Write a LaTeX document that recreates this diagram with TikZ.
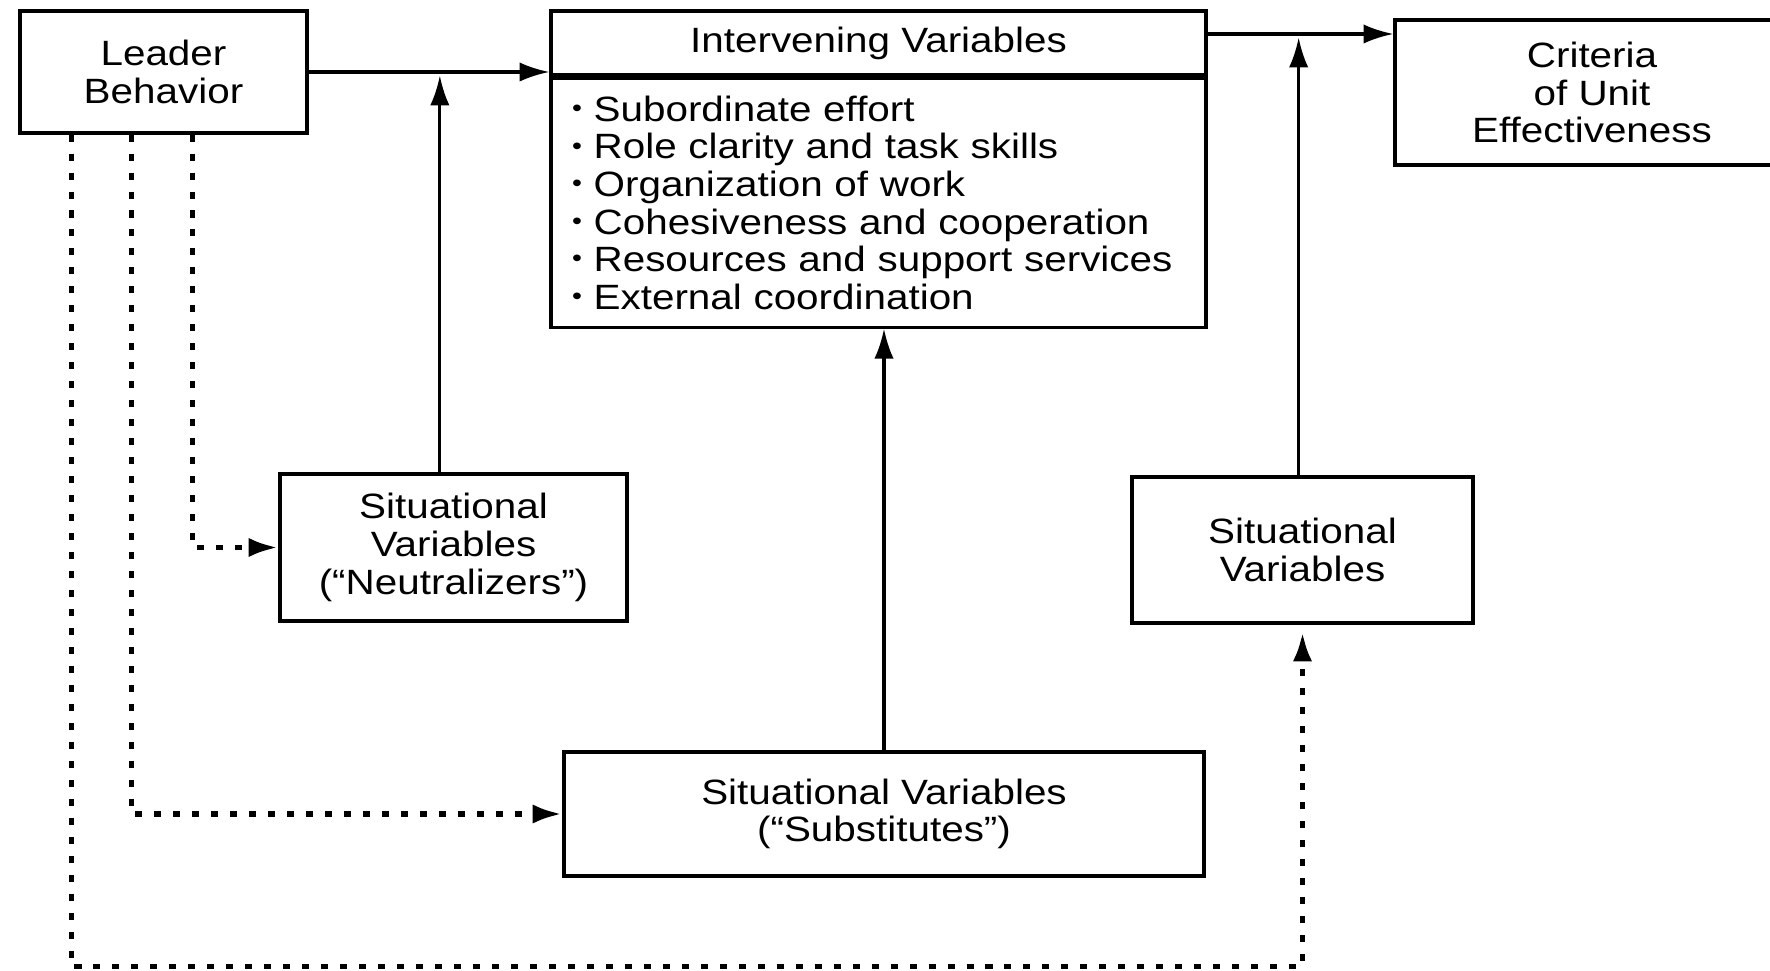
\documentclass[tikz,border=0pt]{standalone}
\usepackage{fontspec}
\setmainfont{Liberation Sans}[FakeStretch=1.15]
\usetikzlibrary{positioning,calc,arrows.meta}
\newcommand{\itm}{\raisebox{0.25ex}{\fontsize{7}{7}\selectfont\textbullet}\ }

\begin{document}
\begin{tikzpicture}[
  box/.style={draw, black, line width=0.9pt, align=center, inner sep=0pt, font=\fontsize{10}{10.7}\selectfont},
  arr/.style={black, line width=0.9pt, -{Latex[length=8.5pt,width=5.5pt]}},
  dots/.style={black, line width=1.6pt, dash pattern=on 2pt off 3.4pt, -{Latex[length=8.5pt,width=5.5pt]}}
]
\useasboundingbox (0,0) rectangle (17.7,9.7);
\node[box, minimum width=2.87cm, minimum height=1.22cm] (lead) at (1.635,8.98) {Leader\\Behavior};
\node[box, minimum width=6.55cm, minimum height=0.64cm] (intvhead) at (8.785,9.27) {Intervening Variables};
\node[box, below=0pt of intvhead, minimum height=2.49cm, text width=6.13cm, align=left, inner xsep=0.21cm] (intv)
  {\itm Subordinate effort\\
   \itm Role clarity and task skills\\
   \itm Organization of work\\
   \itm Cohesiveness and cooperation\\
   \itm Resources and support services\\
   \itm External coordination};
\node[box, minimum width=3.94cm, minimum height=1.45cm] (crit) at (15.92,8.775) {Criteria\\of Unit\\Effectiveness};
\node[box, minimum width=3.47cm, minimum height=1.47cm] (neut) at (4.535,4.225) {Situational\\Variables\\(“Neutralizers”)};
\node[box, minimum width=3.41cm, minimum height=1.46cm] (sit) at (13.025,4.2) {Situational\\Variables};
\node[box, minimum width=6.40cm, minimum height=1.24cm] (subst) at (8.84,1.56) {Situational Variables\\(“Substitutes”)};

\coordinate (o2) at ([yshift=0.09cm]intvhead.east);
\coordinate (j1) at ($(lead.east)!0.545!(lead.east -| intv.west)$);
\coordinate (j2) at ($(o2)!0.49!(o2 -| crit.west)$);
\coordinate (d1) at ([xshift=1.74cm]lead.south west);
\coordinate (d2) at ([xshift=1.13cm]lead.south west);
\coordinate (d3) at ([xshift=0.53cm]lead.south west);
\coordinate (bot) at ([yshift=-0.89cm]subst.south);

\draw[arr] (lead.east) -- (lead.east -| intv.west);
\draw[arr] (o2) -- (o2 -| crit.west);
\draw[arr] (neut.north -| j1) -- ([yshift=-1pt]j1);
\draw[arr] (sit.north -| j2) -- ([yshift=-1pt]j2);
\draw[arr] (subst.north) -- (subst.north |- intv.south);

\draw[dots] (d1) |- (neut.west);
\draw[dots] (d2) |- (subst.west);
\draw[dots, shorten >=2pt] (d3) |- (bot -| sit.south) -- (sit.south);
\end{tikzpicture}
\end{document}
